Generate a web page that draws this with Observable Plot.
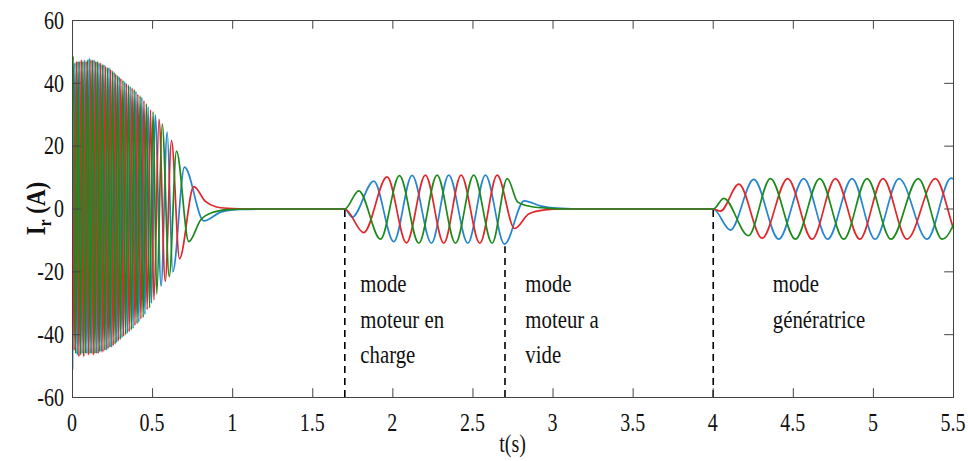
<!DOCTYPE html>
<html><head><meta charset="utf-8">
<script src="https://cdn.jsdelivr.net/npm/d3@7"></script>
<script src="https://cdn.jsdelivr.net/npm/@observablehq/plot@0.6"></script>
<style>body{margin:0;background:#fff} svg{display:block}</style>
</head><body><div id="chart"></div>
<script>
// Phase A (blue): extrema times (s) and values (A)
const blueT = [0.000,0.015,0.030,0.045,0.060,0.075,0.090,0.105,0.120,0.135,0.150,0.165,0.180,0.196,0.212,0.228,0.244,0.260,0.276,0.292,
  0.309,0.326,0.343,0.360,0.378,0.396,0.414,0.433,0.452,0.472,0.493,0.516,0.553,0.591,0.626,0.699,0.820,0.930,1.050,1.200,
  1.700,1.746,1.881,2.006,2.120,2.241,2.349,2.468,2.578,2.697,2.820,2.920,3.020,3.150,
  4.000,4.107,4.253,4.409,4.565,4.715,4.867,5.010,5.160,5.335,5.485,5.640];
const blueV = [-51,46.5,-46.5,47,-46,47.5,-46,48,-46,47.5,-46,46.5,-45.5,46,-45,45,-44,43.5,-42.5,42,
  -41,40.5,-39.5,39,-38,37.5,-36,35.5,-33.5,32.5,-30,30,-24.5,24.5,-20,13.3,-3.8,-0.9,-0.15,0,
  0,-2.6,8.9,-10.4,10.7,-10.9,10.8,-10.9,10.8,-11.2,2.6,1.0,0.25,0,
  0,-6.7,9.4,-9.6,9.7,-9.6,9.7,-9.6,9.7,-9.6,9.8,-9.6];
// Phase B (red)
const redT = [0.000,0.010,0.025,0.040,0.055,0.070,0.085,0.100,0.115,0.130,0.145,0.160,0.175,0.190,0.206,0.222,0.238,0.254,0.270,0.286,
  0.302,0.319,0.336,0.354,0.372,0.390,0.408,0.427,0.446,0.466,0.487,0.508,0.540,0.579,0.618,0.668,0.757,0.830,0.890,0.970,1.100,
  1.700,1.818,1.964,2.085,2.203,2.318,2.426,2.543,2.651,2.760,2.850,2.950,3.050,
  4.000,4.045,4.160,4.305,4.465,4.617,4.763,4.915,5.060,5.210,5.387,5.540,5.690];
const redV = [20,-45,47,-47,47.5,-47,47,-46.5,47.5,-46.5,47,-46,46.5,-45.5,45.5,-44.5,44.5,-43.5,43,-42,
  41.5,-40.5,40,-39,38.5,-37,36.5,-35,34.5,-32,31.5,-29,28.5,-23,21.8,-15.8,7.1,2.4,0.8,0.2,0,
  0,-7.5,10.2,-10.8,10.8,-10.9,10.8,-10.9,10.8,-6.2,-1.5,-0.3,0,
  0,-0.7,7.9,-9.3,9.7,-9.6,9.7,-9.6,9.7,-9.6,9.7,-9.6,9.7];
// Phase C (green)
const greenT = [0.000,0.005,0.020,0.035,0.050,0.065,0.080,0.095,0.110,0.125,0.140,0.155,0.170,0.186,0.202,0.218,0.234,0.250,0.266,0.282,
  0.298,0.315,0.332,0.349,0.367,0.385,0.403,0.422,0.441,0.461,0.481,0.503,0.526,0.560,0.604,0.649,0.726,0.800,0.880,0.970,1.100,
  1.700,1.787,1.923,2.041,2.162,2.276,2.391,2.505,2.620,2.714,2.780,2.860,2.980,3.100,
  4.000,4.066,4.220,4.357,4.513,4.665,4.815,4.960,5.110,5.280,5.430,5.590];
const greenV = [44,48.5,-46,47,-46.5,47,-46,47.5,-46,47.5,-46,47,-45.5,46,-45,45,-44,44,-43,42.5,
  -41.5,41,-40,39.5,-38.5,38,-36.5,36,-34.5,33.5,-31.5,31,-27,27,-21.5,18.4,-10.4,-3.5,-1.0,-0.2,0,
  0,5.8,-9.6,10.6,-10.9,10.8,-10.9,10.8,-10.9,9.7,2.2,0.8,0.2,0,
  0,3.4,-8.5,9.7,-9.6,9.7,-9.6,9.7,-9.6,9.7,-9.6,9.7];

const xTicks = [0,0.5,1,1.5,2,2.5,3,3.5,4,4.5,5,5.5];
const xTickLabels = ["0","0.5","1","1.5","2","2.5","3","3.5","4","4.5","5","5.5"];
const yTicks = [-60,-40,-20,0,20,40,60];
const yTickLabels = ["-60","-40","-20","0","20","40","60"];
const modeTimes = [1.7, 2.7, 4.0];
const modeTopValues = [0, -12, 0];
const noteLines = [["mode","moteur en","charge"],["mode","moteur a","vide"],["mode","génératrice"]];
const xLabel = "t(s)";

// layout / style
const COLORS = {blue:"#2586cf", red:"#e3262a", green:"#1b8a1b"};
const notePos = [{t:1.80},{t:2.83},{t:4.375}];
const noteRows = [-23.7,-35.2,-46.3];
const FONT = "'Liberation Serif','Times New Roman',serif";

const mk = (T,V) => T.map((t,i)=>({t, v:V[i]}));
const lineOpts = c => ({x:"t", y:"v", stroke:c, strokeWidth:1.7, curve:"monotone-x", clip:true});

const plot = Plot.plot({
  width:968, height:461,
  marginLeft:72, marginRight:15, marginTop:20, marginBottom:64,
  x:{domain:[0,5.5], axis:null},
  y:{domain:[-60,60], axis:null},
  style:{background:"#fff"},
  marks:[
    Plot.line(mk(blueT,blueV), lineOpts(COLORS.blue)),
    Plot.line(mk(redT,redV), lineOpts(COLORS.red)),
    Plot.line(mk(greenT,greenV), lineOpts(COLORS.green)),
    Plot.ruleX(modeTimes, {x:d=>d, y1:-60, y2:(d,i)=>modeTopValues[i], stroke:"#000", strokeWidth:1.6, strokeDasharray:"7,5"}),
    Plot.frame({stroke:"#444", strokeWidth:1}),
    Plot.ruleX(xTicks, {x:d=>d, y1:-60, y2:-57.2, stroke:"#444"}),
    Plot.ruleX(xTicks, {x:d=>d, y1:60, y2:57.2, stroke:"#444"}),
    Plot.ruleY(yTicks, {y:d=>d, x1:0, x2:0.055, stroke:"#444"}),
    Plot.ruleY(yTicks, {y:d=>d, x1:5.5, x2:5.445, stroke:"#444"})
  ]
});
document.getElementById("chart").appendChild(plot);

const sx = plot.scale("x"), sy = plot.scale("y");
const svg = d3.select(plot);
function addText(x, y, str, {anchor="middle", size=25, k=0.8, weight="normal", rotate=0}={}) {
  const g = svg.append("g").attr("transform", `translate(${x},${y}) rotate(${rotate}) scale(${k},1)`);
  const t = g.append("text").attr("text-anchor", anchor).attr("dy","0.35em")
    .attr("font-family", FONT).attr("font-size", size).attr("font-weight", weight).attr("fill","#111");
  t.text(str);
  return t;
}
const bottomY = sy.apply(-60);
xTicks.forEach((v,i)=> addText(sx.apply(v), bottomY + 25, xTickLabels[i], {size:25}));
yTicks.forEach((v,i)=> addText(sx.apply(0) - 8, sy.apply(v), yTickLabels[i], {anchor:"end", size:25}));
addText((sx.apply(0)+sx.apply(5.5))/2, bottomY + 46, xLabel, {size:25});
noteLines.forEach((lines, j) => lines.forEach((s, r) =>
  addText(sx.apply(notePos[j].t), sy.apply(noteRows[r]), s, {anchor:"start", size:26})));
// y label: I_r (A)
const yl = addText(36, sy.apply(0), "", {size:27, weight:"bold", rotate:-90, k:0.85});
yl.append("tspan").text("I");
yl.append("tspan").attr("baseline-shift","-30%").attr("font-size",18).text("r");
yl.append("tspan").text(" (A)");
</script></body></html>
